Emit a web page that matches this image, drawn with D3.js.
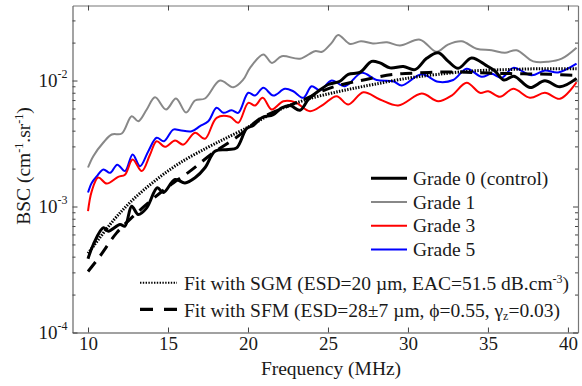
<!DOCTYPE html>
<html>
<head>
<meta charset="utf-8">
<script src="https://cdn.jsdelivr.net/npm/d3@7"></script>
<style>
  body { margin: 0; background: #fff; }
  svg text { font-family: 'Liberation Serif', 'Times New Roman', serif; fill: #1a1a1a; }
</style>
</head>
<body>
<svg id="chart" width="582" height="386"></svg>
<script>
/* global d3 */

// frequency (MHz) / backscatter coefficient (1/cm/sr)
const xTicks = [10, 15, 20, 25, 30, 35, 40]
const yDecades = [1e-4, 1e-3, 1e-2]
const yDecadeLabels = ['-4', '-3', '-2']

const grade0 = [[10.0, 3.85e-4], [10.33, 4.99e-4], [10.96, 6.78e-4], [11.27, 6.37e-4], [12.0, 7.2e-4], [12.31, 6.98e-4],
  [12.73, 1.005e-3], [13.14, 8.64e-4], [13.67, 9.76e-4], [14.33, 1.41e-3], [14.71, 1.29e-3], [15.44, 1.64e-3],
  [16.06, 1.54e-3], [16.69, 1.69e-3], [17.31, 2.03e-3], [17.94, 2.75e-3], [18.77, 2.83e-3], [19.29, 2.92e-3],
  [19.92, 4.16e-3], [20.33, 4.4e-3], [20.86, 5.06e-3], [21.58, 5.37e-3], [22.11, 6.07e-3], [22.63, 6.34e-3],
  [23.25, 5.81e-3], [23.77, 7.07e-3], [24.39, 8.22e-3], [25.02, 9.3e-3], [25.75, 9.87e-3], [26.27, 1.12e-2],
  [27.0, 1.16e-2], [27.73, 1.42e-2], [28.25, 1.38e-2], [28.88, 1.26e-2], [29.71, 1.29e-2], [30.44, 1.22e-2],
  [31.17, 1.5e-2], [31.89, 1.66e-2], [32.52, 1.42e-2], [33.14, 1.25e-2], [33.98, 1.51e-2], [34.88, 1.32e-2],
  [35.44, 1.19e-2], [36.0, 1.01e-2], [36.63, 1.08e-2], [37.63, 8.8e-3], [38.56, 9.96e-3], [39.5, 8.91e-3], [40.54, 1.04e-2]]

const grade1 = [[10.0, 2.04e-3], [10.33, 2.51e-3], [10.96, 3.22e-3], [11.48, 3.73e-3], [12.11, 3.8e-3], [12.73, 5.21e-3],
  [13.14, 4.75e-3], [13.67, 5.89e-3], [14.19, 7.37e-3], [14.88, 5.89e-3], [15.5, 7.2e-3], [16.13, 5.57e-3],
  [16.69, 6.94e-3], [17.31, 7.2e-3], [18.25, 1.0e-2], [19.08, 8.85e-3], [19.71, 1.02e-2], [20.13, 1.26e-2],
  [20.96, 1.61e-2], [21.5, 1.38e-2], [22.11, 1.56e-2], [23.25, 1.49e-2], [24.19, 1.71e-2], [24.63, 1.69e-2],
  [25.23, 1.99e-2], [25.64, 2.3e-2], [26.38, 1.95e-2], [27.06, 2.05e-2], [27.81, 1.97e-2], [28.69, 2.01e-2],
  [29.5, 1.9e-2], [30.75, 2.11e-2], [31.79, 1.69e-2], [32.5, 1.93e-2], [33.36, 2.05e-2], [34.29, 1.79e-2],
  [35.23, 1.74e-2], [36.06, 1.66e-2], [36.79, 1.74e-2], [37.83, 1.42e-2], [38.77, 1.41e-2], [39.61, 1.49e-2], [40.54, 1.82e-2]]

const grade3 = [[10.0, 9.18e-4], [10.23, 1.32e-3], [10.64, 1.7e-3], [11.17, 1.52e-3], [11.89, 1.72e-3], [12.31, 1.79e-3],
  [12.79, 2.36e-3], [13.36, 1.91e-3], [13.88, 2.59e-3], [14.29, 3.3e-3], [14.81, 2.98e-3], [15.44, 3.34e-3],
  [15.96, 3.1e-3], [16.69, 3.85e-3], [17.31, 3.45e-3], [18.04, 5.06e-3], [18.88, 5.15e-3], [19.39, 4.62e-3],
  [20.02, 6.65e-3], [20.44, 6.34e-3], [20.92, 7.29e-3], [21.48, 5.89e-3], [22.21, 6.85e-3], [22.94, 6.73e-3],
  [23.88, 5.71e-3], [24.71, 6.45e-3], [25.54, 7.51e-3], [26.27, 6.45e-3], [27.21, 8.07e-3], [28.25, 7.07e-3],
  [29.39, 6.34e-3], [30.86, 7.88e-3], [31.89, 6.85e-3], [32.73, 7.6e-3], [33.67, 9.59e-3], [34.5, 7.99e-3],
  [35.02, 8.22e-3], [35.75, 7.42e-3], [36.58, 8.59e-3], [37.63, 7.29e-3], [38.56, 7.99e-3], [39.5, 7.16e-3], [40.54, 9.69e-3]]

const grade5 = [[10.0, 1.29e-3], [10.23, 1.54e-3], [10.54, 1.73e-3], [10.96, 1.97e-3], [11.38, 1.85e-3], [11.83, 2.15e-3],
  [12.31, 1.91e-3], [12.79, 2.59e-3], [13.25, 2.09e-3], [13.77, 2.75e-3], [14.29, 3.51e-3], [14.75, 3.3e-3],
  [15.33, 4.08e-3], [15.75, 4.03e-3], [16.48, 3.96e-3], [17.0, 4.34e-3], [17.52, 4.75e-3], [18.04, 6.07e-3],
  [18.46, 5.54e-3], [18.98, 5.81e-3], [19.39, 5.54e-3], [20.02, 7.99e-3], [20.44, 7.6e-3], [20.96, 8.75e-3],
  [21.58, 7.6e-3], [22.31, 8.59e-3], [22.83, 8.22e-3], [23.46, 7.29e-3], [23.98, 9.01e-3], [24.5, 8.37e-3],
  [25.23, 1.0e-2], [26.06, 9.01e-3], [27.11, 1.15e-2], [28.04, 1.01e-2], [29.08, 9.87e-3], [29.61, 9.13e-3],
  [30.86, 1.12e-2], [31.89, 9.76e-3], [32.83, 1.01e-2], [33.67, 1.24e-2], [34.61, 1.07e-2], [35.23, 1.13e-2],
  [35.86, 1.05e-2], [36.58, 1.26e-2], [37.73, 1.1e-2], [38.56, 1.2e-2], [39.39, 1.16e-2], [40.54, 1.36e-2]]

const fitSGM = [[10.0, 4.24e-4], [11.58, 7.74e-4], [12.83, 1.14e-3], [14.29, 1.64e-3], [15.75, 2.22e-3], [17.42, 2.92e-3],
  [18.67, 3.51e-3], [19.92, 4.21e-3], [20.75, 4.85e-3], [22.0, 5.9e-3], [23.67, 7.07e-3], [25.75, 8.22e-3],
  [27.83, 9.3e-3], [30.13, 1.05e-2], [31.89, 1.12e-2], [33.98, 1.19e-2], [36.06, 1.22e-2], [38.13, 1.24e-2], [40.54, 1.24e-2]]

const fitSFM = [[10.0, 3.05e-4], [10.75, 4.04e-4], [11.79, 6.18e-4], [12.83, 8.38e-4], [13.88, 1.1e-3], [14.92, 1.41e-3],
  [16.38, 1.91e-3], [17.83, 2.67e-3], [19.08, 3.4e-3], [19.92, 4.08e-3], [20.75, 4.99e-3], [22.0, 5.89e-3],
  [23.5, 7.07e-3], [24.71, 8.33e-3], [25.75, 9.2e-3], [27.38, 1.02e-2], [29.06, 1.12e-2], [30.75, 1.15e-2],
  [32.44, 1.17e-2], [34.0, 1.16e-2], [35.63, 1.14e-2], [37.25, 1.13e-2], [38.88, 1.12e-2], [40.54, 1.1e-2]]

const measured = [
  { name: 'Grade 0 (control)', data: grade0, color: '#000', width: 3 },
  { name: 'Grade 1', data: grade1, color: '#888', width: 2 },
  { name: 'Grade 3', data: grade3, color: '#f00', width: 2 },
  { name: 'Grade 5', data: grade5, color: '#00f', width: 2 }
]
const fits = [
  { data: fitSGM, dash: '1.4,1.4', width: 3, legendWidth: 2 },
  { data: fitSFM, dash: '12,8', width: 3, legendWidth: 3.2 }
]

const width = 582
const height = 386
const margin = { top: 5.5, right: 4, bottom: 53.5, left: 72.5 }

const svg = d3.select('#chart')

const x = d3.scaleLinear()
  .domain([9.03, 40.63])
  .range([margin.left, width - margin.right])
const y = d3.scaleLog()
  .domain([1e-4, 0.0394])
  .range([height - margin.bottom, margin.top])

svg.append('clipPath').attr('id', 'plot-clip')
  .append('rect')
  .attr('x', margin.left).attr('y', margin.top)
  .attr('width', width - margin.left - margin.right)
  .attr('height', height - margin.top - margin.bottom)

// axes: all ticks point inwards
const minorTicks = y.ticks().filter(v => !yDecades.some(d => Math.abs(d - v) / d < 1e-6))

const xBottom = svg.append('g')
  .attr('transform', `translate(0,${height - margin.bottom})`)
  .call(d3.axisBottom(x).tickValues(xTicks).tickSize(-5).tickSizeOuter(0).tickPadding(4))
xBottom.selectAll('text').style('font-size', '19px').attr('fill', '#1a1a1a')

svg.append('g')
  .attr('transform', `translate(0,${margin.top})`)
  .call(d3.axisTop(x).tickValues(xTicks).tickSize(-5).tickSizeOuter(0).tickFormat(''))

const yLeft = svg.append('g')
  .attr('transform', `translate(${margin.left},0)`)
  .call(d3.axisLeft(y).tickValues(yDecades).tickSize(-5).tickSizeOuter(0).tickFormat(''))
svg.append('g')
  .attr('transform', `translate(${margin.left},0)`)
  .call(d3.axisLeft(y).tickValues(minorTicks).tickSize(-3).tickSizeOuter(0).tickFormat(''))
  .select('.domain').remove()

svg.append('g')
  .attr('transform', `translate(${width - margin.right},0)`)
  .call(d3.axisRight(y).tickValues(yDecades).tickSize(-5).tickSizeOuter(0).tickFormat(''))
svg.append('g')
  .attr('transform', `translate(${width - margin.right},0)`)
  .call(d3.axisRight(y).tickValues(minorTicks).tickSize(-3).tickSizeOuter(0).tickFormat(''))
  .select('.domain').remove()

svg.selectAll('.domain').attr('stroke', '#777').attr('stroke-width', 1.2)
svg.selectAll('.tick line').attr('stroke', '#444')
xBottom.select('.domain').attr('stroke', '#444')
yLeft.select('.domain').attr('stroke', '#666')

// 10^n labels
const yLabel = yLeft.selectAll('.tick')
  .append('text')
  .attr('x', -5)
  .attr('y', 5.5)
  .attr('text-anchor', 'end')
  .style('font-size', '19px')
yLabel.append('tspan').text('10')
yLabel.append('tspan')
  .attr('dy', -9)
  .style('font-size', '12px')
  .text((d, i) => yDecadeLabels[i])

// curves
const line = d3.line()
  .x(d => x(d[0]))
  .y(d => y(d[1]))
  .curve(d3.curveCatmullRom.alpha(0.5))

const plot = svg.append('g').attr('clip-path', 'url(#plot-clip)')

plot.selectAll('.measured')
  .data(measured.slice().reverse())
  .enter()
  .append('path')
  .attr('class', 'measured')
  .attr('fill', 'none')
  .attr('stroke', d => d.color)
  .attr('stroke-width', d => d.width)
  .attr('stroke-linejoin', 'round')
  .attr('d', d => line(d.data))

plot.selectAll('.fit')
  .data(fits)
  .enter()
  .append('path')
  .attr('class', 'fit')
  .attr('fill', 'none')
  .attr('stroke', '#000')
  .attr('stroke-width', d => d.width)
  .attr('stroke-dasharray', d => d.dash)
  .attr('d', d => line(d.data))

// legend for the grades
const legend = svg.append('g')
const rows = legend.selectAll('.row')
  .data(measured)
  .enter()
  .append('g')
  .attr('transform', (d, i) => `translate(0,${178.3 + i * 23.7})`)
rows.append('line')
  .attr('x1', 371).attr('x2', 407)
  .attr('stroke', d => d.color)
  .attr('stroke-width', d => d.width)
rows.append('text')
  .attr('x', 413).attr('y', 6.7)
  .style('font-size', '19.5px')
  .text(d => d.name)

// legend for the fits
const fitRows = legend.selectAll('.fitrow')
  .data(fits)
  .enter()
  .append('g')
  .attr('transform', (d, i) => `translate(0,${282.7 + i * 26.6})`)
fitRows.append('line')
  .attr('x1', 140).attr('x2', 177)
  .attr('stroke', '#000')
  .attr('stroke-width', d => d.legendWidth)
  .attr('stroke-dasharray', (d, i) => i === 0 ? '1.4,1.4' : '13,11')

const sgmText = d3.select(fitRows.nodes()[0]).append('text')
  .attr('x', 184).attr('y', 7.3)
  .style('font-size', '19.5px')
sgmText.append('tspan').text('Fit with SGM (ESD=20 \u00b5m, EAC=51.5 dB.cm')
sgmText.append('tspan').attr('dy', -7).style('font-size', '12px').text('-3')
sgmText.append('tspan').attr('dy', 7).text(')')

const sfmText = d3.select(fitRows.nodes()[1]).append('text')
  .attr('x', 184).attr('y', 7.3)
  .style('font-size', '19.5px')
sfmText.append('tspan').text('Fit with SFM (ESD=28\u00b17 \u00b5m, \u03d5=0.55, \u03b3')
sfmText.append('tspan').attr('dy', 3).style('font-size', '12px').text('z')
sfmText.append('tspan').attr('dy', -3).text('=0.03)')

// axis titles
svg.append('text')
  .attr('x', 331).attr('y', 375)
  .attr('text-anchor', 'middle')
  .style('font-size', '19.5px')
  .text('Frequency (MHz)')

const yTitle = svg.append('text')
  .attr('transform', 'translate(30,166) rotate(-90)')
  .attr('text-anchor', 'middle')
  .style('font-size', '19.5px')
yTitle.append('tspan').text('BSC (cm')
yTitle.append('tspan').attr('dy', -7).style('font-size', '12px').text('-1')
yTitle.append('tspan').attr('dy', 7).text('.sr')
yTitle.append('tspan').attr('dy', -7).style('font-size', '12px').text('-1')
yTitle.append('tspan').attr('dy', 7).text(')')
</script>
</body>
</html>
